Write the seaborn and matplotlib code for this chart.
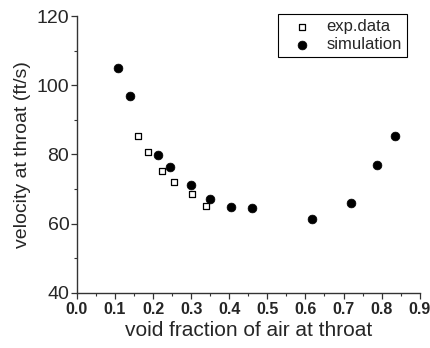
import matplotlib
matplotlib.use("Agg")
import matplotlib.pyplot as plt
import seaborn as sns
import pandas as pd
from matplotlib.ticker import MultipleLocator

sns.set_theme(style="ticks")
plt.rcParams['font.family'] = ['Liberation Sans', 'DejaVu Sans']

exp_x = [0.159, 0.187, 0.223, 0.255, 0.303, 0.339]
exp_y = [85.2, 80.7, 75.3, 71.9, 68.4, 65.0]
sim_x = [0.107, 0.138, 0.213, 0.244, 0.299, 0.349, 0.405, 0.460, 0.618, 0.720, 0.787, 0.834]
sim_y = [104.9, 97.0, 79.8, 76.3, 71.0, 67.2, 64.7, 64.5, 61.3, 65.8, 76.9, 85.4]
x_ticks = [0.0, 0.1, 0.2, 0.3, 0.4, 0.5, 0.6, 0.7, 0.8, 0.9]

df_exp = pd.DataFrame({"x": exp_x, "y": exp_y})
df_sim = pd.DataFrame({"x": sim_x, "y": sim_y})

fig = plt.figure(figsize=(4.3, 3.48), dpi=100)
ax = fig.add_axes([0.179, 0.159, 0.797, 0.795])

sns.scatterplot(data=df_exp, x="x", y="y", ax=ax, marker="s", s=24,
                facecolor="white", edgecolor="black", linewidth=0.9, label="exp.data")
sns.scatterplot(data=df_sim, x="x", y="y", ax=ax, marker="o", s=40,
                color="black", edgecolor="black", linewidth=0.5, label="simulation")

ax.set_xlim(0, 0.9)
ax.set_ylim(40, 120)
ax.xaxis.set_minor_locator(MultipleLocator(0.05))
ax.yaxis.set_major_locator(MultipleLocator(20))
ax.yaxis.set_minor_locator(MultipleLocator(10))
ax.set_xticks(x_ticks)
ax.set_xticklabels([f"{v:.1f}" for v in x_ticks], fontweight="bold", fontsize=11.5)
ax.tick_params(axis="y", labelsize=14)
ax.tick_params(which="major", direction="out", length=4.5, width=0.9, color="#333333", pad=1)
ax.tick_params(axis="x", which="major", pad=2)
ax.tick_params(which="minor", direction="out", length=2.5, width=0.8, color="#333333")

for side in ["top", "right"]:
    ax.spines[side].set_visible(False)
for side in ["left", "bottom"]:
    ax.spines[side].set_linewidth(1.0)
    ax.spines[side].set_color("#333333")

ax.set_xlabel("void fraction of air at throat", fontsize=15, labelpad=3)
ax.set_ylabel("velocity at throat (ft/s)", fontsize=14, labelpad=4)

leg = ax.legend(loc="upper right", bbox_to_anchor=(407 / 430, 1 - 14 / 348),
                bbox_transform=fig.transFigure, fontsize=12,
                frameon=True, fancybox=False, edgecolor="black", framealpha=1,
                handletextpad=0.3, borderpad=0.3, labelspacing=0.2, handlelength=2.3,
                borderaxespad=0)
leg.get_frame().set_linewidth(0.8)

fig.savefig("out.png", dpi=100)
